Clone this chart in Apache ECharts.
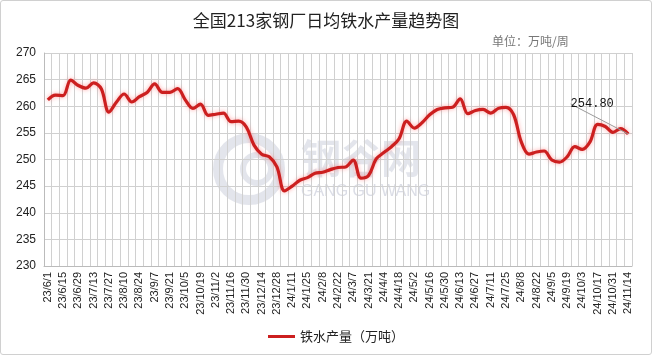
<!DOCTYPE html>
<html><head><meta charset="utf-8">
<script src="https://cdn.jsdelivr.net/npm/echarts@6/dist/echarts.min.js"></script>
<style>
html,body{margin:0;padding:0;background:#fff;}
#c{width:650px;height:353px;border:1px solid #d0d0d0;border-radius:3px;}
</style></head>
<body><div id="c"></div>
<script>
const categories = ['23/6/1','23/6/8','23/6/15','23/6/22','23/6/29','23/7/6','23/7/13','23/7/20','23/7/27','23/8/3','23/8/10','23/8/17','23/8/24','23/8/31','23/9/7','23/9/14','23/9/21','23/9/28','23/10/5','23/10/12','23/10/19','23/10/26','23/11/2','23/11/9','23/11/16','23/11/23','23/11/30','23/12/7','23/12/14','23/12/21','23/12/28','24/1/4','24/1/11','24/1/18','24/1/25','24/2/1','24/2/8','24/2/15','24/2/22','24/2/29','24/3/7','24/3/14','24/3/21','24/3/28','24/4/4','24/4/11','24/4/18','24/4/25','24/5/2','24/5/9','24/5/16','24/5/23','24/5/30','24/6/6','24/6/13','24/6/20','24/6/27','24/7/4','24/7/11','24/7/18','24/7/25','24/8/1','24/8/8','24/8/15','24/8/22','24/8/29','24/9/5','24/9/12','24/9/19','24/9/26','24/10/3','24/10/10','24/10/17','24/10/24','24/10/31','24/11/7','24/11/14'];
const ironOutput = [261.2,262.1,262.0,264.9,263.9,263.4,264.4,263.3,258.9,260.8,262.3,260.8,261.8,262.6,264.2,262.6,262.6,263.3,261.2,259.6,260.4,258.3,258.5,258.7,257.1,257.2,256.1,252.7,251.0,250.5,248.6,244.1,245.0,246.1,246.6,247.4,247.6,248.1,248.5,248.6,249.9,246.5,247.0,250.1,251.3,252.4,253.9,257.2,255.9,256.9,258.4,259.4,259.7,259.8,261.4,258.6,259.2,259.4,258.7,259.6,259.8,258.4,253.3,251.0,251.4,251.6,249.9,249.5,250.5,252.4,251.9,253.3,256.6,256.2,255.1,255.8,254.8];
const yTicks = {min:230, max:270, interval:5};
const seriesName = '铁水产量（万吨）';
const titleText = '全国213家钢厂日均铁水产量趋势图';
const unitText = '单位：万吨/周';

const chart = echarts.init(document.getElementById('c'));
const lastIdx = ironOutput.length - 1;
const seriesData = ironOutput.map((v,i)=> i===lastIdx ? {
  value: v,
  label: {show:true, formatter: v.toFixed(2), position:'top', distance:4,
    fontFamily:'Liberation Mono, DejaVu Sans Mono, monospace', fontSize:12, color:'#111'}
} : v);

chart.setOption({
  animation:false,
  title:[
    {text:titleText, left:'center', top:6, textStyle:{fontFamily:'Noto Sans CJK SC', fontSize:17, fontWeight:'normal', color:'#222'}},
    {text:unitText, left:486, top:29, textStyle:{fontFamily:'Noto Sans CJK SC', fontSize:12, fontWeight:'normal', color:'#777'}}
  ],
  graphic:[
    {type:'circle', shape:{cx:248, cy:168, r:31}, style:{fill:'none', stroke:'rgba(175,180,200,0.35)', lineWidth:10}, z:0},
    {type:'circle', shape:{cx:256, cy:168, r:14}, style:{fill:'none', stroke:'rgba(175,180,200,0.35)', lineWidth:6}, z:0},
    {type:'text', left:300, top:137, style:{text:'钢谷网', font:'bold 40px "Noto Sans CJK SC"', fill:'rgba(175,180,200,0.35)'}, z:0},
    {type:'text', left:300, top:183, style:{text:'GANG GU WANG', font:'16px "Liberation Sans"', fill:'rgba(175,180,200,0.45)'}, z:0}
  ],
  legend:{bottom:6, left:262, icon:'rect', itemWidth:27, itemHeight:3, itemGap:4,
    textStyle:{fontFamily:'Noto Sans CJK SC', fontSize:13, color:'#222'}},
  grid:{left:43, right:19, top:52, bottom:88},
  xAxis:{type:'category', data:categories, boundaryGap:true,
    axisLine:{lineStyle:{color:'#bbb'}},
    axisTick:{show:false},
    splitLine:{show:true, interval:0, lineStyle:{color:'#d0d0d0', width:1}},
    axisLabel:{interval:1, rotate:90, margin:6, fontFamily:'Liberation Sans', fontSize:11, color:'#222'}},
  yAxis:{type:'value', min:yTicks.min, max:yTicks.max, interval:yTicks.interval,
    axisLine:{show:true, lineStyle:{color:'#bbb'}},
    axisTick:{show:false},
    splitLine:{lineStyle:{color:'#d0d0d0'}},
    axisLabel:{margin:8, fontFamily:'Liberation Sans', fontSize:12, color:'#222'}},
  series:[{
    name:seriesName, type:'line', data:seriesData, smooth:0.35,
    symbol:'circle', symbolSize:0, showSymbol:true,
    lineStyle:{color:'#cc1f1f', width:3.2, shadowColor:'rgba(255,80,80,0.5)', shadowBlur:4},
    itemStyle:{color:'#cc1f1f'},
    labelLayout:{dx:-36, dy:-20},
    labelLine:{show:true, length2:6, lineStyle:{color:'#999', width:1}},
    z:5
  }]
});
</script></body></html>
